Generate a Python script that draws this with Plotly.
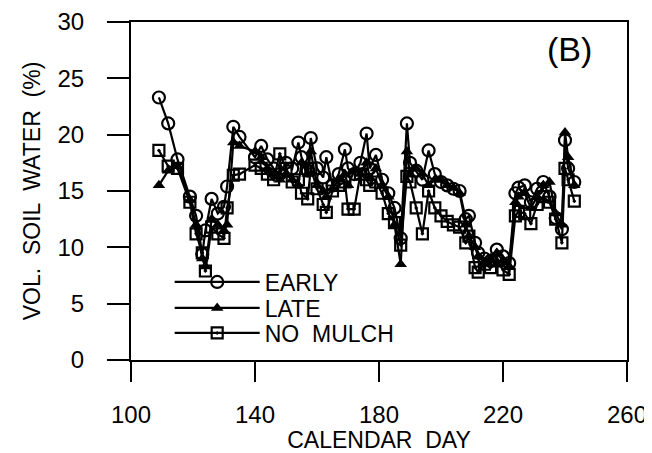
import plotly.graph_objects as go

days = [109,112,115,119,121,123,124,126,128,130,131,133,135,140,142,144,146,148,150,152,
        154,155,157,158,160,162,163,165,167,169,170,172,174,176,177,179,181,183,185,187,
        189,190,192,194,196,198,200,202,204,206,208,209,211,212,214,216,218,220,222,224,
        225,227,229,231,233,235,237,239,240,241,243]

early = [23.3,21.0,17.8,14.5,12.8,9.4,11.5,14.3,13.0,13.6,15.4,20.7,19.8,18.0,19.0,17.8,17.0,16.5,17.5,17.0,
         19.3,18.0,16.8,19.7,17.0,16.2,18.0,15.5,16.5,18.7,17.0,16.5,17.5,20.1,17.0,18.2,16.0,14.8,13.5,10.8,
         21.0,17.5,16.8,16.0,18.6,16.5,15.8,15.5,15.2,15.0,12.5,12.8,10.4,9.5,9.0,8.8,9.8,9.2,8.6,14.8,
         15.3,15.5,14.0,15.2,15.8,14.5,12.6,11.6,19.5,17.0,15.8]

late = [15.5,16.8,17.2,14.2,12.0,9.0,8.3,12.5,12.0,11.5,12.0,19.3,19.0,18.5,18.0,17.0,16.5,16.0,16.5,16.0,
        15.5,17.5,16.5,18.5,15.5,15.0,14.5,15.2,16.0,16.5,15.5,16.8,16.5,17.5,16.2,17.0,15.5,14.5,12.0,8.5,
        18.5,16.5,17.0,16.5,15.5,16.0,16.0,15.5,15.3,14.8,12.0,11.0,10.0,9.2,8.6,9.0,9.5,8.8,8.3,14.0,
        14.5,14.8,13.5,14.5,15.5,15.8,13.0,12.0,20.2,18.0,15.5]

no_mulch = [18.6,17.2,17.0,14.0,11.2,9.5,7.9,11.8,11.2,10.8,13.5,16.4,16.5,17.3,17.0,16.5,16.0,18.3,17.0,15.8,
            16.0,14.8,14.3,17.0,15.2,13.8,13.1,15.0,15.5,15.8,13.4,13.4,16.5,16.0,15.5,15.8,14.8,13.0,12.2,10.2,
            16.3,15.8,13.5,11.2,15.0,13.5,12.8,12.3,12.0,11.8,10.4,11.0,8.2,7.8,8.5,8.2,8.8,8.0,7.6,12.8,
            13.2,13.0,12.1,13.8,14.5,14.0,12.5,10.4,17.0,16.0,14.1]

x_ticks = [100, 140, 180, 220, 260]
y_ticks = [0, 5, 10, 15, 20, 25, 30]

FONT = "Liberation Sans, Arial, sans-serif"

fig = go.Figure()
fig.add_trace(go.Scatter(x=days, y=early, name="EARLY", mode="lines+markers", legend="legend",
                         line=dict(color="black", width=2.2),
                         marker=dict(symbol="circle-open", size=12, color="black", line=dict(width=2.2))))
fig.add_trace(go.Scatter(x=days, y=late, name="LATE", mode="lines+markers", legend="legend2",
                         line=dict(color="black", width=2.2),
                         marker=dict(symbol="triangle-up", size=11, color="black")))
fig.add_trace(go.Scatter(x=days, y=no_mulch, name="NO  MULCH", mode="lines+markers", legend="legend3",
                         line=dict(color="black", width=2.2),
                         marker=dict(symbol="square-open-dot", size=11, color="black", line=dict(width=2.2))))

fig.add_annotation(x=241.5, y=27.6, xref="x", yref="y", text="(B)", showarrow=False,
                   font=dict(family=FONT, size=34, color="black"))

leg_common = dict(xanchor="left", yanchor="middle", bgcolor="rgba(0,0,0,0)", itemwidth=85,
                  font=dict(family=FONT, size=23, color="black"))

PLOT_H = 338  # plot-area height in pixels (used for legend placement)

# page body has an 8px margin, so the figure is 8px smaller and margins are shifted by 8px
fig.update_layout(
    width=644, height=445,
    margin=dict(l=123, r=25, t=14, b=93, autoexpand=False),
    paper_bgcolor="white", plot_bgcolor="white",
    font=dict(family=FONT, color="black"),
    showlegend=True,
    legend=dict(x=0.078, y=(360 - 282) / PLOT_H, **leg_common),
    legend2=dict(x=0.078, y=(360 - 308) / PLOT_H, **leg_common),
    legend3=dict(x=0.078, y=(360 - 333) / PLOT_H, **leg_common),
)
fig.update_xaxes(range=[100, 260], tickvals=x_ticks, ticktext=[str(v) for v in x_ticks],
                 automargin=False, ticklabeloverflow="allow",
                 showgrid=False, zeroline=False, showline=True, linecolor="black", linewidth=2,
                 mirror=True, ticks="outside", ticklen=20, tickwidth=2, tickcolor="black",
                 ticklabelstandoff=12,
                 tickfont=dict(family=FONT, size=24, color="black"),
                 title=dict(text="CALENDAR  DAY", font=dict(family=FONT, size=23, color="black"), standoff=14))
fig.update_yaxes(range=[0, 30], tickvals=y_ticks, ticktext=[str(v) for v in y_ticks],
                 automargin=False, ticklabeloverflow="allow",
                 showgrid=False, zeroline=False, showline=True, linecolor="black", linewidth=2,
                 mirror=True, ticks="outside", ticklen=22, tickwidth=2, tickcolor="black",
                 ticklabelstandoff=18,
                 tickfont=dict(family=FONT, size=24, color="black"),
                 title=dict(text="VOL.  SOIL  WATER  (%)", font=dict(family=FONT, size=23, color="black"), standoff=10))

fig.write_html("out.html")
